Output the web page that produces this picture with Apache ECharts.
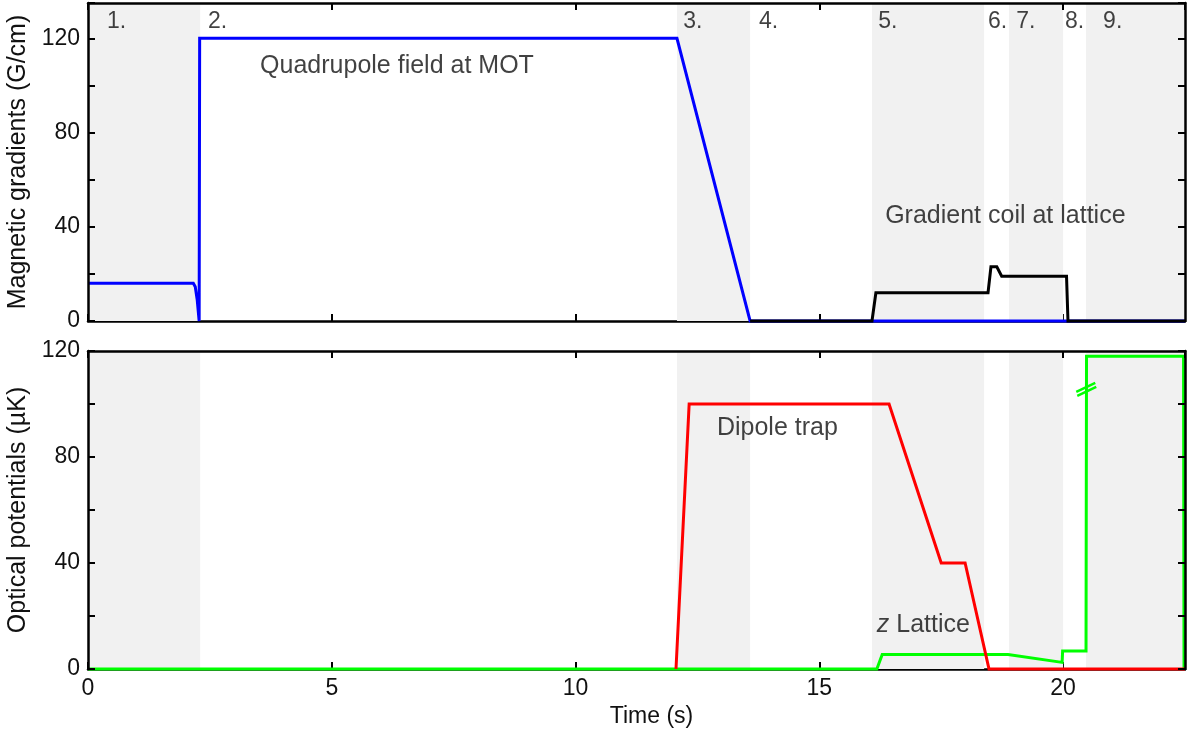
<!DOCTYPE html>
<html>
<head>
<meta charset="utf-8">
<title>Experimental sequence</title>
<script src="https://cdn.jsdelivr.net/npm/echarts@6/dist/echarts.min.js"></script>
<style>
  html, body { margin: 0; padding: 0; background: #fff; }
  #chart { width: 1188px; height: 731px; }
</style>
</head>
<body>
<div id="chart"></div>
<script>
// Stage boundaries of the sequence (s); odd stages are shaded
var stageEdges = [0, 2.3, 12.08, 13.58, 16.08, 18.38, 18.89, 20.0, 20.47, 22.5];
var stageNames = ['1.', '2.', '3.', '4.', '5.', '6.', '7.', '8.', '9.'];
var stageLabelTimes = [0.39, 2.46, 12.21, 13.76, 16.21, 18.46, 19.04, 20.04, 20.82];
var stageLabelLevel = 127;

// Magnetic gradients (G/cm) vs time (s)
var quadrupoleMOT = [[0, 16], [2.16, 16], [2.2, 14.5], [2.24, 9], [2.28, 0], [2.29, 120],
  [12.08, 120], [13.58, 0], [22.5, 0]];
var gradientLattice = [[13.58, 0], [16.08, 0], [16.16, 12], [18.46, 12], [18.52, 23],
  [18.64, 23], [18.74, 19], [20.07, 19], [20.1, 0], [22.5, 0]];

// Optical potentials (µK) vs time (s)
var zLattice = [[0, 0], [16.18, 0], [16.29, 5.5], [18.87, 5.5], [19.98, 2.5], [19.99, 6.8],
  [20.47, 6.8], [20.48, 118], [22.47, 118], [22.48, 0]];
var dipoleTrap = [[12.06, 0], [12.33, 100], [16.43, 100], [17.5, 40], [17.99, 40],
  [18.48, 0], [22.5, 0]];
var axisBreak = [[20.475, 105.5]];

// Curve annotations: [time, value, text]
var topNotes = [[3.53, 108, 'Quadrupole field at MOT'], [16.35, 44.5, 'Gradient coil at lattice']];
var bottomNotes = [[12.9, 91, 'Dipole trap'], [16.18, 16.5, '{i|z} Lattice']];

var FONT = '"Liberation Sans", Arial, Helvetica, sans-serif';
var TEXT = '#111111';
var SHADE = '#f1f1f1';

var shadedAreas = [];
for (var k = 0; k < stageEdges.length - 1; k += 2) {
  shadedAreas.push([{ xAxis: stageEdges[k] }, { xAxis: stageEdges[k + 1] }]);
}

function xAxisDef(gridIndex, position, showLabels, name) {
  return {
    type: 'value', gridIndex: gridIndex, position: position,
    z: position === 'top' ? 10 : 0,
    min: 0, max: 22.5, interval: 5,
    name: name || '', nameLocation: 'middle', nameGap: 36,
    nameTextStyle: { fontFamily: FONT, fontSize: 23, color: TEXT, padding: [0, 0, 0, 30] },
    axisLine: { show: true, onZero: false, lineStyle: { color: '#000', width: 2.5 } },
    axisTick: { show: true, inside: true, length: 7, lineStyle: { color: '#000', width: 2 } },
    axisLabel: {
      show: showLabels, margin: 8, fontFamily: FONT, fontSize: 23, color: TEXT,
      formatter: function (v) { return v % 5 === 0 ? String(v) : ''; }
    },
    splitLine: { show: false }
  };
}

function yAxisDef(gridIndex, position, max, showLabels, name) {
  return {
    type: 'value', gridIndex: gridIndex, position: position, z: 10,
    min: 0, max: max, interval: 20,
    name: name || '', nameLocation: 'middle', nameGap: 51,
    nameTextStyle: { fontFamily: FONT, fontSize: 25, color: TEXT },
    axisLine: { show: true, onZero: false, lineStyle: { color: '#000', width: 2.5 } },
    axisTick: { show: true, inside: true, length: 7, lineStyle: { color: '#000', width: 2 } },
    axisLabel: {
      show: showLabels, margin: 8, fontFamily: FONT, fontSize: 23, color: TEXT,
      formatter: function (v) { return (v % 40 === 0 && v <= 120) ? String(v) : ''; }
    },
    splitLine: { show: false }
  };
}

function textSeries(xi, yi, notes, size) {
  return {
    type: 'scatter', xAxisIndex: xi, yAxisIndex: yi, symbolSize: 0, silent: true, z: 5,
    data: notes.map(function (n) { return { value: [n[0], n[1]], name: n[2] }; }),
    label: {
      show: true, position: 'right', distance: 0,
      fontFamily: FONT, fontSize: size, color: TEXT,
      formatter: function (p) { return p.name; },
      rich: { i: { fontFamily: FONT, fontSize: size, color: TEXT, fontStyle: 'italic' } }
    }
  };
}

function lineSeries(xi, yi, data, color, z) {
  return {
    type: 'line', xAxisIndex: xi, yAxisIndex: yi, data: data,
    showSymbol: false, symbol: 'none', clip: false, z: z,
    lineStyle: { color: color, width: 3, join: 'miter' }
  };
}

// background bands for the shaded stages
function bandSeries(xi, yi) {
  return {
    type: 'line', xAxisIndex: xi, yAxisIndex: yi, data: [], z: -1, silent: true,
    markArea: { silent: true, itemStyle: { color: SHADE }, data: shadedAreas }
  };
}

var stageNotes = stageNames.map(function (s, i) { return [stageLabelTimes[i], stageLabelLevel, s]; });

var option = {
  animation: false,
  backgroundColor: '#fff',
  grid: [
    { left: 88, right: 3, top: 3, height: 318, outerBoundsMode: 'none', containLabel: false },
    { left: 88, right: 3, top: 351, height: 318, outerBoundsMode: 'none', containLabel: false }
  ],
  xAxis: [
    xAxisDef(0, 'bottom', false),
    xAxisDef(0, 'top', false),
    xAxisDef(1, 'bottom', true, 'Time (s)'),
    xAxisDef(1, 'top', false)
  ],
  yAxis: [
    yAxisDef(0, 'left', 135, true, 'Magnetic gradients (G/cm)'),
    yAxisDef(0, 'right', 135, false),
    yAxisDef(1, 'left', 120, true, 'Optical potentials (\u00b5K)'),
    yAxisDef(1, 'right', 120, false)
  ],
  series: [
    bandSeries(0, 0),
    bandSeries(2, 2),
    lineSeries(0, 0, quadrupoleMOT, '#0000ff', 3),
    lineSeries(0, 0, gradientLattice, '#000000', 4),
    lineSeries(2, 2, zLattice, '#00ff00', 3),
    lineSeries(2, 2, dipoleTrap, '#ff0000', 4),
    {
      // axis-break marker on the lattice ramp
      type: 'custom', xAxisIndex: 2, yAxisIndex: 2, data: axisBreak, z: 6, silent: true,
      renderItem: function (params, api) {
        var c = api.coord([api.value(0), api.value(1)]);
        var style = { stroke: '#00ff00', lineWidth: 2.5 };
        return {
          type: 'group',
          children: [
            { type: 'line', shape: { x1: c[0] - 10, y1: c[1] + 2.5, x2: c[0] + 9, y2: c[1] - 6.5 }, style: style },
            { type: 'line', shape: { x1: c[0] - 9, y1: c[1] + 6.5, x2: c[0] + 10, y2: c[1] - 2.5 }, style: style }
          ]
        };
      }
    },
    textSeries(0, 0, stageNotes, 23),
    textSeries(0, 0, topNotes, 25),
    textSeries(2, 2, bottomNotes, 25)
  ]
};

var chart = echarts.init(document.getElementById('chart'), null, { renderer: 'canvas' });
chart.setOption(option);
</script>
</body>
</html>
